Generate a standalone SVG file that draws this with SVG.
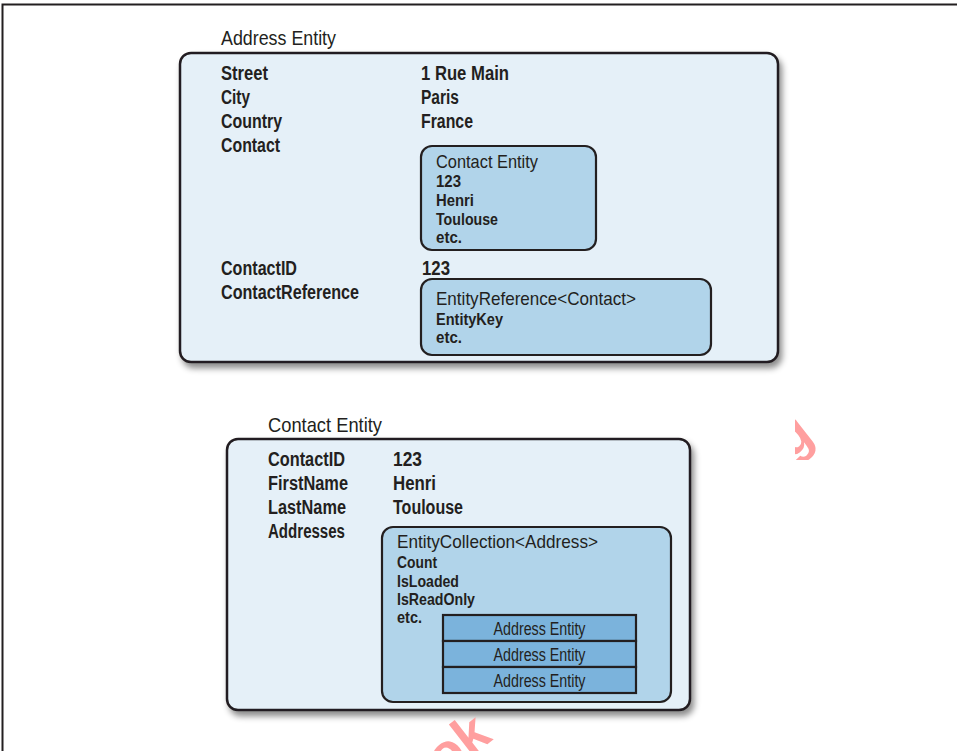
<svg xmlns="http://www.w3.org/2000/svg" width="957" height="751" viewBox="0 0 957 751">
<style>
  text { font-family: "Liberation Sans", Arial, sans-serif; fill: #231f20; }
  .title { font-size: 21px; font-weight: normal; }
  .lbl { font-size: 20px; font-weight: bold; }
  .sub { font-size: 16.5px; font-weight: bold; }
  .head { font-size: 19px; font-weight: normal; }
  .stk { font-size: 17.5px; font-weight: normal; text-anchor: middle; }
  .outer { fill: #e5f0f8; stroke: #231f20; stroke-width: 2.5; }
  .inner { fill: #b1d4ea; stroke: #231f20; stroke-width: 2.2; }
  .stack { fill: #7bb3dc; stroke: #231f20; stroke-width: 2.2; }
  .wm { fill: #ff9f9f; font-family: "Liberation Sans", Arial, sans-serif; font-weight: bold; }
</style>
<defs>
  <filter id="sh" x="-5%" y="-5%" width="115%" height="120%">
    <feDropShadow dx="3" dy="5" stdDeviation="3" flood-color="#000" flood-opacity="0.45"/>
  </filter>
  <clipPath id="clipR"><rect x="795" y="418" width="40" height="42"/></clipPath>
</defs>
<rect x="0" y="0" width="957" height="751" fill="#ffffff"/>
<path d="M2.5,751 V4.5 H957" fill="none" stroke="#231f20" stroke-width="2"/>

<g id="address-entity">
  <text class="title" x="221" y="45" textLength="115" lengthAdjust="spacingAndGlyphs">Address Entity</text>
  <rect class="outer" x="180" y="53" width="598" height="309" rx="11" filter="url(#sh)"/>
  <text class="lbl" x="221" y="80" textLength="47" lengthAdjust="spacingAndGlyphs">Street</text>
  <text class="lbl" x="221" y="104" textLength="29" lengthAdjust="spacingAndGlyphs">City</text>
  <text class="lbl" x="221" y="128" textLength="61" lengthAdjust="spacingAndGlyphs">Country</text>
  <text class="lbl" x="221" y="152" textLength="59" lengthAdjust="spacingAndGlyphs">Contact</text>
  <text class="lbl" x="221" y="275" textLength="76" lengthAdjust="spacingAndGlyphs">ContactID</text>
  <text class="lbl" x="221" y="299" textLength="138" lengthAdjust="spacingAndGlyphs">ContactReference</text>
  <text class="lbl" x="421" y="80" textLength="88" lengthAdjust="spacingAndGlyphs">1 Rue Main</text>
  <text class="lbl" x="421" y="104" textLength="38" lengthAdjust="spacingAndGlyphs">Paris</text>
  <text class="lbl" x="421" y="128" textLength="52" lengthAdjust="spacingAndGlyphs">France</text>
  <text class="lbl" x="422" y="275" textLength="28" lengthAdjust="spacingAndGlyphs">123</text>
</g>

<g id="contact-entity-inner">
  <rect class="inner" x="421" y="146" width="175" height="104" rx="11"/>
  <text class="head" x="436" y="168" textLength="102" lengthAdjust="spacingAndGlyphs">Contact Entity</text>
  <text class="sub" x="436" y="187" textLength="25" lengthAdjust="spacingAndGlyphs">123</text>
  <text class="sub" x="436" y="206" textLength="38" lengthAdjust="spacingAndGlyphs">Henri</text>
  <text class="sub" x="436" y="225" textLength="62" lengthAdjust="spacingAndGlyphs">Toulouse</text>
  <text class="sub" x="436" y="243" textLength="26" lengthAdjust="spacingAndGlyphs">etc.</text>
</g>

<g id="entity-reference">
  <rect class="inner" x="421" y="279" width="290" height="76" rx="11"/>
  <text class="head" x="436" y="305" textLength="200" lengthAdjust="spacingAndGlyphs">EntityReference&lt;Contact&gt;</text>
  <text class="sub" x="436" y="325" textLength="67" lengthAdjust="spacingAndGlyphs">EntityKey</text>
  <text class="sub" x="436" y="343" textLength="26" lengthAdjust="spacingAndGlyphs">etc.</text>
</g>

<g id="contact-entity">
  <text class="title" x="268" y="432" textLength="114" lengthAdjust="spacingAndGlyphs">Contact Entity</text>
  <rect class="outer" x="227" y="439" width="463" height="271" rx="11" filter="url(#sh)"/>
  <text class="lbl" x="268" y="466" textLength="77" lengthAdjust="spacingAndGlyphs">ContactID</text>
  <text class="lbl" x="268" y="490" textLength="80" lengthAdjust="spacingAndGlyphs">FirstName</text>
  <text class="lbl" x="268" y="514" textLength="78" lengthAdjust="spacingAndGlyphs">LastName</text>
  <text class="lbl" x="268" y="538" textLength="77" lengthAdjust="spacingAndGlyphs">Addresses</text>
  <text class="lbl" x="393" y="466" textLength="29" lengthAdjust="spacingAndGlyphs">123</text>
  <text class="lbl" x="393" y="490" textLength="43" lengthAdjust="spacingAndGlyphs">Henri</text>
  <text class="lbl" x="393" y="514" textLength="70" lengthAdjust="spacingAndGlyphs">Toulouse</text>
</g>

<g id="entity-collection">
  <rect class="inner" x="382" y="527" width="289" height="175" rx="11"/>
  <text class="head" x="397" y="548" textLength="201" lengthAdjust="spacingAndGlyphs">EntityCollection&lt;Address&gt;</text>
  <text class="sub" x="397" y="568" textLength="40" lengthAdjust="spacingAndGlyphs">Count</text>
  <text class="sub" x="397" y="587" textLength="62" lengthAdjust="spacingAndGlyphs">IsLoaded</text>
  <text class="sub" x="397" y="605" textLength="78" lengthAdjust="spacingAndGlyphs">IsReadOnly</text>
  <text class="sub" x="397" y="623" textLength="25" lengthAdjust="spacingAndGlyphs">etc.</text>
</g>

<g id="address-entity-1">
  <rect class="stack" x="443" y="615" width="193" height="26"/>
  <text class="stk" x="539.5" y="635" textLength="92" lengthAdjust="spacingAndGlyphs">Address Entity</text>
</g>
<g id="address-entity-2">
  <rect class="stack" x="443" y="641" width="193" height="26"/>
  <text class="stk" x="539.5" y="661" textLength="92" lengthAdjust="spacingAndGlyphs">Address Entity</text>
</g>
<g id="address-entity-3">
  <rect class="stack" x="443" y="667" width="193" height="26"/>
  <text class="stk" x="539.5" y="687" textLength="92" lengthAdjust="spacingAndGlyphs">Address Entity</text>
</g>

<g id="connectors"></g>

<g id="watermark">
  <text class="wm" font-size="54" transform="translate(444,778) rotate(-38)">ok</text>
  <g clip-path="url(#clipR)">
    <text class="wm" font-size="54" transform="translate(790,460) rotate(-38)">g</text>
  </g>
</g>
</svg>
